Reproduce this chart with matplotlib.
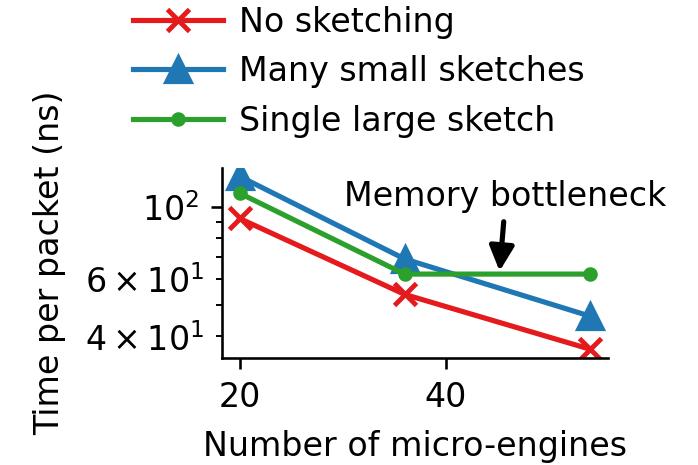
import matplotlib
matplotlib.use("Agg")
import matplotlib.pyplot as plt

engines = [20, 36, 54]
no_sketch = [92.0, 53.8, 36.5]
many_small = [123.9, 69.1, 46.1]
single_large = [110.0, 62.1, 62.1]
labels = ["No sketching", "Many small sketches", "Single large sketch"]

plt.rcParams['font.family'] = ['DejaVu Sans']
plt.rcParams['font.size'] = 10.3

fig = plt.figure(figsize=(3.0, 2.0), dpi=232.67)
ax = fig.add_axes([0.318, 0.230, 0.553, 0.409])

ax.plot(engines, no_sketch, color='#e41a1c', marker='x', ms=7, mew=1.5, lw=1.6, label=labels[0])
ax.plot(engines, many_small, color='#1f77b4', marker='^', ms=8, lw=1.6, label=labels[1])
ax.plot(engines, single_large, color='#2ca02c', marker='o', ms=3.5, lw=1.6, label=labels[2])
ax.set_yscale('log')
ax.set_xticks([20, 40])
ax.set_xlabel("Number of micro-engines", labelpad=5)
ax.set_ylabel("Time per packet (ns)", labelpad=6)
for s in ['top', 'right']:
    ax.spines[s].set_visible(False)

ax.text(45.7, 108, "Memory bottleneck", ha='center', va='center')
ax.annotate("", xy=(45.2, 63.4), xytext=(45.6, 89.9),
            arrowprops=dict(arrowstyle='-|>', color='black', lw=1.6,
                            mutation_scale=16, shrinkA=0, shrinkB=0))

fig.legend(*ax.get_legend_handles_labels(), loc='upper left',
           bbox_to_anchor=(0.1905, 0.987), bbox_transform=fig.transFigure,
           frameon=False, handlelength=2.7, handletextpad=0.5,
           borderaxespad=0, borderpad=0, labelspacing=0.49)

fig.savefig("out.png", dpi=232.67)
